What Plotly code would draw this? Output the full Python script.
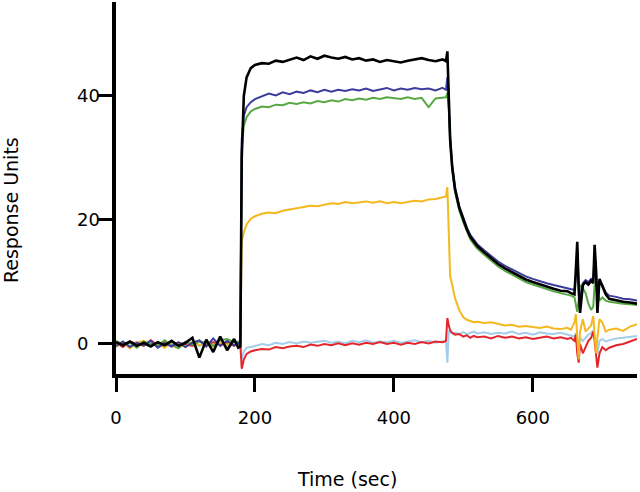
import plotly.graph_objects as go

# Time points (sec)
time_sec = [
    0, 10, 20, 30, 40, 50, 60, 70, 80, 90, 100, 110, 120, 130, 140, 150, 160, 170,
    176, 179, 181, 184, 188, 194,
    200, 210, 220, 230, 240, 250, 260, 270, 280, 290, 300, 310, 320, 330, 340, 350,
    360, 370, 380, 390, 400, 410, 420, 430, 440, 450, 460, 470,
    475, 477, 479, 481, 484, 488, 494,
    500, 505, 510, 515, 520, 530, 540, 550, 560, 570, 580, 590, 600, 610, 620, 630, 640, 650,
    655, 660, 662, 664, 666, 668, 672, 676, 680, 684, 687, 689, 691, 693, 696, 700, 705,
    710, 720, 730, 740, 750,
]

black_ru = [
    0.3, -0.2, 0.4, -0.3, 0.2, -0.4, 0.3, -0.2, 0.5, -0.3, 0.2, 1.0, -2.2, 0.7, -1.3, 1.2, -1.0, 0.8,
    -0.6, -0.4, 30.0, 40.0, 43.0, 44.5,
    45.0, 45.3, 45.2, 45.7, 45.5, 45.9, 46.2, 45.8, 46.4, 46.0, 46.5, 46.2, 46.0, 46.3, 45.9, 46.1,
    45.7, 45.9, 45.5, 45.8, 45.6, 45.4, 45.7, 45.9, 46.1, 45.8, 45.6, 45.9,
    45.6, 47.2, 40.0, 33.0, 28.5, 25.0, 22.0,
    20.0, 18.5, 17.3, 16.5, 15.8, 14.8, 13.8, 12.9, 12.2, 11.6, 11.0, 10.4, 10.0, 9.6, 9.3, 8.9, 8.6, 8.5,
    8.2, 8.0, 12.0, 16.5, 9.0, 5.0, 9.5, 10.0, 9.6, 10.2, 9.8, 16.0, 12.0, 5.0, 10.5, 9.5, 8.0,
    7.3, 7.0, 6.8, 6.7, 6.5,
]

blue_ru = [
    -0.3, 0.4, -0.5, 0.2, -0.2, 0.5, -0.6, 0.1, -0.4, 0.3, -0.5, 0.2, 0.6, -0.4, 0.9, -0.3, 0.5, -0.2,
    0.2, -0.3, 33.0, 36.8, 38.2, 39.0,
    39.5, 39.9, 40.4, 40.1, 40.6, 40.3, 40.7, 40.5, 40.9, 40.6, 41.0, 40.7, 41.0, 40.8, 41.1, 40.9,
    41.2, 40.8, 41.1, 41.3, 40.9, 41.2, 41.0, 41.3, 41.1, 41.2, 40.9, 41.3,
    41.0, 43.0, 39.0, 33.5, 28.8, 25.3, 22.3,
    20.3, 18.8, 17.6, 16.8, 16.1, 15.1, 14.2, 13.3, 12.6, 12.0, 11.4, 10.9, 10.5, 10.1, 9.8, 9.5, 9.2, 9.0,
    8.8, 8.7, 11.0, 15.0, 10.0, 7.0, 9.8, 10.3, 10.0, 10.5, 10.2, 14.5, 12.0, 7.0, 10.0, 9.5, 8.3,
    7.8, 7.6, 7.3, 7.2, 7.0,
]

green_ru = [
    0.5, -0.1, 0.2, -0.6, 0.4, 0.1, -0.3, 0.6, -0.2, -0.7, 0.3, -0.1, 0.4, 0.2, -0.3, 0.6, 0.8, 0.3,
    0.4, 0.1, 31.5, 35.2, 36.6, 37.5,
    37.9, 38.3, 38.2, 38.6, 38.5, 38.9, 38.7, 39.0, 38.8, 39.2, 39.0, 39.3, 39.1, 39.5, 39.3, 39.6,
    39.4, 39.7, 39.5, 39.8, 39.6, 39.5, 39.8, 39.5, 39.7, 38.2, 39.6, 39.7,
    39.8, 40.5, 38.0, 32.5, 28.0, 24.6, 21.6,
    19.6, 18.1, 16.9, 16.1, 15.4, 14.4, 13.4, 12.5, 11.8, 11.2, 10.6, 10.0, 9.6, 9.2, 8.9, 8.5, 8.2, 8.0,
    7.8, 7.5, 6.0, 5.2, 7.0, 9.5, 9.0, 8.2, 6.5, 5.5, 6.0, 9.5, 10.0, 8.5, 7.0, 7.5, 7.0,
    6.8, 6.6, 6.5, 6.4, 6.3,
]

yellow_ru = [
    -0.4, 0.3, -0.7, 0.2, 0.5, -0.3, 0.1, -0.6, 0.3, 0.0, -0.5, 0.4, -0.2, 0.3, -0.4, 0.2, -0.1, 0.4,
    -0.2, 0.1, 16.5, 18.0, 19.3, 20.2,
    20.6, 21.0, 21.2, 21.1, 21.5, 21.7, 21.9, 22.0, 22.3, 22.2, 22.5, 22.7, 22.6, 22.9, 22.7, 22.9,
    23.0, 22.8, 23.0, 22.7, 22.9, 22.7, 22.9, 23.1, 23.0, 23.3, 23.4, 23.6,
    23.8, 25.3, 16.0, 11.0, 9.5, 7.4, 5.5,
    4.3, 3.9, 3.7, 3.5, 3.6, 3.4, 3.5, 3.2, 3.0, 3.1, 2.8, 2.9, 2.7, 2.6, 2.8, 2.5, 2.4, 2.6,
    2.3, 3.5, 4.8, 0.0, -2.5, 2.0, 4.0, 2.0, 2.5, 3.0, 4.5, 2.0, -1.5, 1.0, 4.0, 3.5, 2.0,
    2.3, 2.5, 2.1, 2.8, 3.2,
]

red_ru = [
    0.2, -0.5, 0.4, 0.1, -0.3, 0.6, -0.2, 0.3, -0.4, 0.2, 0.0, -0.3, 0.5, -0.2, 0.3, -0.1, 0.2, -0.3,
    0.1, -0.2, -4.0, -2.5, -1.6, -1.2,
    -1.0, -0.8, -0.9, -0.5, -0.7, -0.4, -0.3, -0.5, -0.1, -0.3, 0.0, -0.2, 0.1, -0.2, 0.1, -0.1,
    0.2, 0.0, 0.3, 0.0, 0.2, -0.1, 0.2, 0.0, 0.3, 0.1, 0.4, 0.3,
    0.5, 4.2, 3.0, 2.2, 1.8, 1.5, 1.6,
    1.2, 1.4, 1.0, 1.3, 1.1, 1.2, 0.9, 1.3, 1.0, 1.2, 0.9, 1.1, 0.8, 1.0, 1.2, 0.9, 1.1, 0.8,
    1.0, 0.5, 1.5, -1.5, -3.0, 0.0, -1.5, -0.5, 0.5, 1.0, 2.0, 0.5, -2.0, -3.8, -1.5, -0.5, -1.0,
    -0.6, -0.2, 0.0, 0.4, 0.8,
]

lightblue_ru = [
    -0.5, 0.2, -0.3, 0.4, -0.1, -0.4, 0.3, -0.2, 0.1, -0.5, 0.4, 0.0, -0.3, 0.2, -0.1, 0.3, -0.4, 0.0,
    -0.3, 0.0, -2.5, -1.2, -0.6, -0.5,
    -0.3, 0.0, -0.2, 0.2, 0.0, 0.3, 0.1, 0.4, 0.2, 0.3, 0.5, 0.2, 0.4, 0.1, 0.5, 0.3,
    0.6, 0.2, 0.4, 0.3, 0.5, 0.2, 0.4, 0.6, 0.3, 0.5, 0.2, 0.4,
    0.3, -3.0, 2.0, 1.9, 1.7, 1.8, 1.6,
    1.9, 1.6, 1.8, 2.0, 1.7, 1.9, 1.6, 1.8, 1.7, 2.0, 1.6, 1.8, 1.5, 1.9, 1.7, 1.6, 1.8, 1.5,
    1.4, 1.2, 1.8, 0.0, -1.5, 1.0, 0.5, 1.0, 1.5, 1.8, 2.2, 1.0, -0.5, -1.5, 0.5, 0.8, 0.4,
    0.6, 0.9, 1.0, 1.2, 1.3,
]

x_ticks = [0, 200, 400, 600]
y_ticks = [0, 20, 40]
y_tick_labels = ["0", "20", "40"]

series = [
    (lightblue_ru, "#a3cdea", 2.0),
    (red_ru, "#e2262c", 2.0),
    (yellow_ru, "#f4b820", 2.0),
    (green_ru, "#58a845", 2.0),
    (blue_ru, "#3c3c9c", 2.0),
    (black_ru, "#000000", 2.6),
]

fig = go.Figure()
for vals, col, w in series:
    fig.add_trace(go.Scatter(x=time_sec, y=vals, mode="lines",
                             line=dict(color=col, width=w), showlegend=False,
                             hoverinfo="skip"))

tick_font = dict(family="DejaVu Sans", size=18, color="#000")
annotations = [
    dict(text="Time (sec)", xref="x", yref="paper", x=332, y=-0.282,
         xanchor="center", yanchor="middle", showarrow=False,
         font=dict(family="DejaVu Sans", size=19, color="#000")),
    dict(text="Response Units", xref="paper", yref="paper", x=-0.2, y=0.44,
         xanchor="center", yanchor="middle", showarrow=False, textangle=-90,
         font=dict(family="DejaVu Sans", size=19, color="#000")),
]
for v, lab in zip(y_ticks, y_tick_labels):
    annotations.append(dict(text=lab, xref="paper", yref="y", x=-0.079, y=v,
                            xanchor="left", yanchor="middle", showarrow=False,
                            font=tick_font))

fig.update_layout(
    width=640, height=492,
    margin=dict(l=116, r=3, t=2, b=118, autoexpand=False),
    paper_bgcolor="white", plot_bgcolor="white",
    xaxis=dict(range=[0, 750], tickvals=x_ticks, ticks="outside", ticklen=14,
               tickwidth=2.5, tickcolor="#000", showline=True, linewidth=4,
               linecolor="#000", showgrid=False, zeroline=False, automargin=False,
               tickfont=tick_font, ticklabelstandoff=10),
    yaxis=dict(range=[-4.84, 55.16], tickvals=y_ticks, ticks="outside", ticklen=14,
               tickwidth=2.5, tickcolor="#000", showline=True, linewidth=4,
               linecolor="#000", showgrid=False, zeroline=False, automargin=False,
               showticklabels=False),
    annotations=annotations,
)

fig.write_html("out.html", config={"displayModeBar": False},
               post_script="document.body.style.margin='0';document.body.style.overflow='hidden';")
